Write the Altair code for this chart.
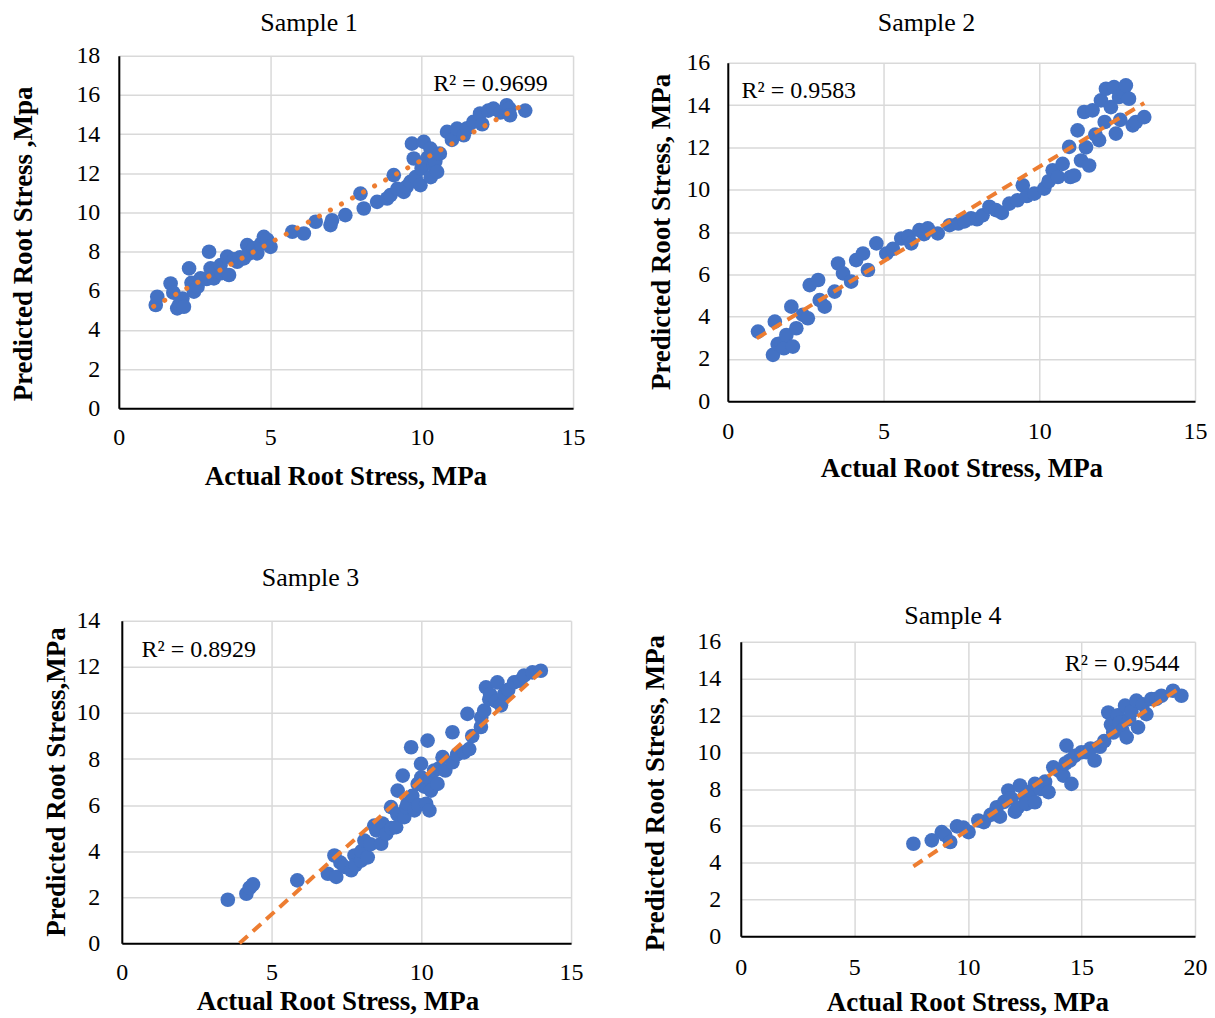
import altair as alt
import pandas as pd

FONT = "Liberation Serif"
BLUE = "#4472C4"
ORANGE = "#ED7D31"
GRID = "#D9D9D9"

# ---------------- data ----------------
p1_x = [1.22, 1.27, 1.71, 1.8, 1.93, 2.0, 2.1, 2.15, 2.32, 2.4, 2.48, 2.6, 2.7, 2.9, 2.98, 3.03, 3.14, 3.2,
        3.36, 3.4, 3.58, 3.64, 3.8, 3.91, 4.0, 4.13, 4.24, 4.3, 4.46, 4.57, 4.7, 4.79, 4.9, 5.01, 5.73, 6.11,
        6.5, 6.99, 7.04, 7.48, 7.98, 8.09, 8.53, 8.86, 8.97, 9.08, 9.2, 9.41, 9.5, 9.63, 9.68, 9.74, 9.8, 9.96,
        10.0, 10.07, 10.2, 10.29, 10.3, 10.4, 10.45, 10.51, 10.6, 10.84, 11.0, 11.17, 11.39, 11.5, 11.71,
        11.93, 12.0, 12.2, 12.37, 12.6, 12.81, 12.9, 12.92, 13.42]
p1_y = [5.27, 5.69, 6.37, 5.9, 5.1, 5.3, 5.6, 5.18, 7.14, 6.4, 5.95, 6.2, 6.63, 6.6, 7.99, 7.14, 6.63, 7.0,
        7.31, 6.9, 7.74, 6.8, 7.6, 7.48, 7.7, 7.65, 8.33, 7.9, 8.16, 7.91, 8.4, 8.75, 8.6, 8.24, 9.01, 8.92,
        9.52, 9.35, 9.6, 9.86, 10.96, 10.2, 10.54, 10.71, 10.88, 11.9, 11.2, 11.05, 11.3, 11.56, 13.51, 12.75,
        11.8, 11.39, 12.24, 13.6, 12.8, 13.26, 11.8, 12.41, 12.6, 12.07, 13.0, 14.11, 13.7, 14.28, 13.94, 14.3,
        14.62, 15.05, 14.5, 15.2, 15.3, 15.1, 15.47, 15.3, 14.96, 15.2]

p2_x = [0.97, 1.45, 1.51, 1.6, 1.72, 1.8, 1.88, 2.04, 2.09, 2.2, 2.41, 2.57, 2.63, 2.9, 2.95, 3.11, 3.43, 3.54,
        3.7, 3.96, 4.12, 4.34, 4.5, 4.77, 5.09, 5.3, 5.57, 5.8, 5.89, 6.15, 6.3, 6.42, 6.74, 7.12, 7.4, 7.6,
        7.81, 8.0, 8.18, 8.4, 8.61, 8.8, 9.04, 9.3, 9.47, 9.6, 9.84, 10.16, 10.3, 10.43, 10.6, 10.75, 10.96,
        11.0, 11.12, 11.23, 11.34, 11.44, 11.5, 11.6, 11.71, 11.8, 11.92, 11.98, 12.1, 12.14, 12.3, 12.4,
        12.46, 12.56, 12.6, 12.7, 12.78, 12.88, 13.0, 13.1, 13.37]
p2_y = [3.29, 2.19, 3.76, 2.7, 2.74, 2.5, 3.13, 4.47, 2.58, 3.45, 4.08, 3.92, 5.49, 5.73, 4.78, 4.47, 5.18, 6.51,
        6.04, 5.65, 6.67, 6.98, 6.2, 7.46, 6.98, 7.2, 7.69, 7.8, 7.46, 8.09, 7.9, 8.17, 7.93, 8.32, 8.4, 8.5,
        8.64, 8.6, 8.79, 9.19, 9.03, 8.9, 9.34, 9.5, 10.21, 9.7, 9.81, 10.05, 10.4, 10.92, 10.6, 11.22, 12.02,
        10.6, 10.67, 12.8, 11.38, 13.67, 12.0, 11.14, 13.75, 12.6, 12.34, 14.22, 13.2, 14.77, 13.9, 14.85,
        12.65, 14.38, 13.3, 14.6, 14.93, 14.3, 13.04, 13.2, 13.43]

p3_x = [3.54, 4.16, 4.27, 4.38, 5.86, 6.88, 7.1, 7.16, 7.3, 7.43, 7.66, 7.77, 7.8, 7.99, 8.0, 8.1, 8.21, 8.3,
        8.43, 8.5, 8.66, 8.7, 8.83, 8.99, 9.0, 9.16, 9.2, 9.21, 9.38, 9.43, 9.5, 9.54, 9.66, 9.7, 9.77, 9.88,
        9.9, 9.99, 10.0, 10.1, 10.16, 10.21, 10.27, 10.3, 10.32, 10.43, 10.54, 10.6, 10.71, 10.8, 11.04, 11.04,
        11.2, 11.43, 11.54, 11.6, 11.7, 11.99, 12.0, 12.1, 12.16, 12.27, 12.3, 12.5, 12.54, 12.66, 12.77,
        12.9, 13.1, 13.3, 13.43, 13.71, 13.99]
p3_y = [1.89, 2.15, 2.41, 2.56, 2.73, 3.02, 3.81, 2.88, 3.5, 3.32, 3.17, 3.81, 3.4, 3.59, 4.0, 4.46, 3.73, 4.3,
        5.11, 4.9, 4.32, 5.2, 4.75, 5.91, 5.0, 5.04, 5.6, 6.63, 7.28, 5.48, 5.9, 6.06, 8.51, 6.4, 5.77, 6.92,
        6.0, 7.79, 7.2, 6.8, 6.06, 8.8, 5.77, 7.1, 6.63, 7.5, 6.92, 7.6, 8.08, 7.5, 7.86, 9.16,
        8.2, 8.29, 9.96, 8.43, 9.0, 9.39, 9.8, 10.1, 11.11, 10.6, 10.8, 10.5, 11.33, 10.33, 10.83,
        11.0, 11.33, 11.4, 11.62, 11.76, 11.83]

p4_x = [7.6, 8.41, 8.85, 9.0, 9.22, 9.52, 9.8, 10.03, 10.46, 10.7, 11.0, 11.27, 11.41, 11.6, 11.78, 11.9, 12.07,
        12.2, 12.29, 12.5, 12.58, 12.8, 12.95, 12.95, 13.2, 13.4, 13.55, 13.76, 14.0, 14.2, 14.3, 14.34, 14.49,
        14.56, 14.7, 15.0, 15.22, 15.4, 15.58, 15.81, 16.0, 16.18, 16.3, 16.4, 16.6, 16.69, 16.8, 16.92, 16.99,
        17.1, 17.2, 17.42, 17.49, 17.7, 17.86, 18.08, 18.3, 18.52, 19.03, 19.4]
p4_y = [5.03, 5.21, 5.66, 5.5, 5.12, 5.97, 5.9, 5.66, 6.29, 6.2, 6.6, 7.01, 6.5, 7.3, 7.92, 7.5, 6.77,
        7.0, 8.19, 7.6, 7.19, 7.9, 8.28, 7.28, 8.0, 8.4, 7.83, 9.18, 9.0, 8.73, 9.4, 10.36, 9.55,
        8.28, 9.8, 10.0, 10.0, 10.2, 9.55, 10.3, 10.6, 12.16, 11.5, 11.07, 12.0, 11.62, 11.2, 12.53, 10.81,
        11.8, 12.2, 12.8, 11.35, 12.6, 12.07, 12.89, 12.9, 13.07, 13.34, 13.07]

# trendline end points
t1_x = [1.15, 13.25]
t1_y = [5.2, 15.4]
t2_x = [0.93, 13.37]
t2_y = [2.97, 14.1]
t3_x = [3.93, 14.03]
t3_y = [0.0, 11.83]
t4_x = [7.6, 19.34]
t4_y = [3.8, 13.5]

r2_labels = ["R² = 0.9699", "R² = 0.9583", "R² = 0.8929", "R² = 0.9544"]
r2_x = [12.27, 2.28, 2.57, 16.79]
r2_y = [16.57, 14.68, 12.74, 14.8]

titles = ["Sample 1", "Sample 2", "Sample 3", "Sample 4"]
x_titles = ["Actual Root Stress, MPa"] * 4
y_titles = ["Predicted Root Stress ,Mpa", "Predicted Root Stress, MPa",
            "Predicted Root Stress,MPa", "Predicted Root Stress, MPa"]

x_ticks_15 = [0, 5, 10, 15]
x_ticks_20 = [0, 5, 10, 15, 20]
y_ticks_18 = [0, 2, 4, 6, 8, 10, 12, 14, 16, 18]
y_ticks_16 = [0, 2, 4, 6, 8, 10, 12, 14, 16]
y_ticks_14 = [0, 2, 4, 6, 8, 10, 12, 14]


def make_panel(px, py, tx, ty, r2t, r2x, r2y, title, x_title, y_title,
               xdom, xvals, ydom, yvals, W, H, lay):
    xaxis = alt.Axis(values=xvals, title=x_title, grid=True, gridColor=GRID, gridWidth=1.5,
                     domainColor="black", domainWidth=2, ticks=False, tickSize=0,
                     labelFont=FONT, labelFontSize=24, labelColor="black",
                     labelPadding=lay["xlp"], labelFlush=False, labelOverlap=False,
                     titleFont=FONT, titleFontSize=27, titleFontWeight="bold", titleColor="black",
                     titleX=lay["xtx"], titleY=lay["xty"], titleBaseline="middle", titleAlign="center")
    yaxis = alt.Axis(values=yvals, title=y_title, grid=True, gridColor=GRID, gridWidth=1.5,
                     domainColor="black", domainWidth=2, ticks=False, tickSize=0,
                     labelFont=FONT, labelFontSize=24, labelColor="black",
                     labelPadding=lay["ylp"], labelOverlap=False,
                     titleFont=FONT, titleFontSize=27, titleFontWeight="bold", titleColor="black",
                     titleX=lay["ytx"], titleY=lay["yty"], titleBaseline="middle", titleAlign="center")
    xs = alt.Scale(domain=xdom, nice=False, zero=False)
    ys = alt.Scale(domain=ydom, nice=False, zero=False)
    X = alt.X("x:Q", scale=xs, axis=xaxis)
    Y = alt.Y("y:Q", scale=ys, axis=yaxis)

    box = alt.Chart(pd.DataFrame({"b": [0]})).mark_rule(opacity=0, strokeOpacity=0).encode(
        x=alt.value(lay["box"][0]), x2=alt.value(lay["box"][1]),
        y=alt.value(lay["box"][2]), y2=alt.value(lay["box"][3]))
    pts = alt.Chart(pd.DataFrame({"x": px, "y": py})).mark_circle(
        size=215, color=BLUE, opacity=1).encode(x=X, y=Y)
    if lay["dotted"]:
        line_mark = dict(strokeDash=[0.1, 12.5], strokeCap="round", strokeWidth=5)
    else:
        line_mark = dict(strokeDash=[11, 7], strokeCap="butt", strokeWidth=4)
    trend = alt.Chart(pd.DataFrame({"x": tx, "y": ty})).mark_line(
        color=ORANGE, **line_mark).encode(x=X, y=Y)
    r2 = alt.Chart(pd.DataFrame({"x": [r2x], "y": [r2y], "t": [r2t]})).mark_text(
        font=FONT, fontSize=24, color="black", align="center", baseline="middle").encode(
        x=X, y=Y, text="t:N")
    return alt.layer(box, pts, trend, r2).properties(
        width=W, height=H,
        title=alt.TitleParams(text=title, font=FONT, fontSize=26, fontWeight="normal",
                              color="black", anchor="middle", frame="group",
                              dx=lay["tdx"], offset=lay["toff"]))


def spacer(w, h):
    return alt.Chart(pd.DataFrame({"s": [0]})).mark_rule(opacity=0, strokeOpacity=0).encode(
        x=alt.value(0), x2=alt.value(1), y=alt.value(0), y2=alt.value(1)).properties(width=w, height=h)


lay1 = dict(xlp=17, xtx=227, xty=68, ylp=19, ytx=-95, yty=188, box=[-109, 472, 176, 443],
            tdx=-37, toff=8, dotted=True)
lay2 = dict(xlp=18, xtx=234, xty=67, ylp=18, ytx=-66, yty=169, box=[-138, 100, 170, 436],
            tdx=-35, toff=15, dotted=False)
lay3 = dict(xlp=17, xtx=216, xty=58, ylp=22, ytx=-65, yty=161, box=[-113, 468, 161, 161],
            tdx=-36, toff=18, dotted=False)
lay4 = dict(xlp=19, xtx=227, xty=66, ylp=20, ytx=-85, yty=151, box=[-152, 100, 147, 147],
            tdx=-15, toff=1, dotted=False)

p1 = make_panel(p1_x, p1_y, t1_x, t1_y, r2_labels[0], r2_x[0], r2_y[0], titles[0], x_titles[0], y_titles[0],
                [0, 15], x_ticks_15, [0, 18], y_ticks_18, 455, 353, lay1)
p2 = make_panel(p2_x, p2_y, t2_x, t2_y, r2_labels[1], r2_x[1], r2_y[1], titles[1], x_titles[1], y_titles[1],
                [0, 15], x_ticks_15, [0, 16], y_ticks_16, 468, 339, lay2)
p3 = make_panel(p3_x, p3_y, t3_x, t3_y, r2_labels[2], r2_x[2], r2_y[2], titles[2], x_titles[2], y_titles[2],
                [0, 15], x_ticks_15, [0, 14], y_ticks_14, 450, 323, lay3)
p4 = make_panel(p4_x, p4_y, t4_x, t4_y, r2_labels[3], r2_x[3], r2_y[3], titles[3], x_titles[3], y_titles[3],
                [0, 20], x_ticks_20, [0, 16], y_ticks_16, 455, 295, lay4)

c1 = alt.vconcat(spacer(10, 1), p1, spacing=0)
c2 = alt.vconcat(spacer(10, 1), p2, spacing=0)
c3 = alt.vconcat(spacer(10, 1), p3, spacing=0)
c4 = alt.vconcat(spacer(10, 39), p4, spacing=0)
row1 = alt.hconcat(spacer(1, 1), c1, c2, spacing=0)
row2 = alt.hconcat(spacer(1, 1), c3, c4, spacing=0)
chart = alt.vconcat(row1, row2, spacing=66).properties(padding=0).configure_view(stroke=None)

chart.save("out.html", embed_options={"renderer": "svg", "actions": False})
